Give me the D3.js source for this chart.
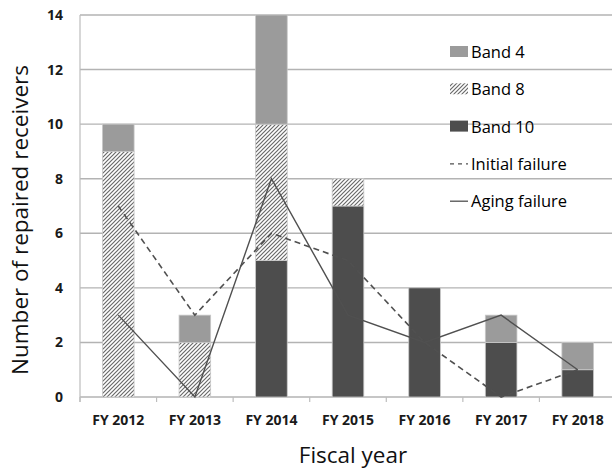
<!DOCTYPE html>
<html><head><meta charset="utf-8">
<script src="https://cdn.jsdelivr.net/npm/d3@7"></script>
<style>body{margin:0;background:#fff}svg{display:block}text{font-family:"Open Sans",sans-serif}</style>
</head><body>
<svg id="c" width="612" height="469"></svg>
<script>
const categories = ["FY 2012","FY 2013","FY 2014","FY 2015","FY 2016","FY 2017","FY 2018"];
const band10 = [0,0,5,7,4,2,1];
const band8  = [9,2,5,1,0,0,0];
const band4  = [1,1,4,0,0,1,1];
const initialFailure = [7,3,6,5,2,0,1];
const agingFailure   = [3,0,8,3,2,3,1];
const yTicks = [0,2,4,6,8,10,12,14];

const svg = d3.select("#c");
const m = {left:80, top:15, bottom:397};
const width = 536;
const x = d3.scaleBand().domain(categories).range([m.left, m.left+width]).paddingInner(0.587).paddingOuter(0.2935);
const xc = d3.scaleBand().domain(categories).range([m.left, m.left+width]);
const y = d3.scaleLinear().domain([0,14]).range([m.bottom, m.top]);

const defs = svg.append("defs");
const pat = defs.append("pattern").attr("id","hatch").attr("patternUnits","userSpaceOnUse")
  .attr("width",4).attr("height",4);
pat.append("rect").attr("width",4).attr("height",4).attr("fill","#fff");
pat.append("path").attr("d","M-1,1 l2,-2 M0,4 l4,-4 M3,5 l2,-2").attr("stroke","#6a6a6a").attr("stroke-width",1.2);

// gridlines
svg.append("g").selectAll("line").data(yTicks).join("line")
  .attr("x1",m.left).attr("x2",612).attr("y1",d=>y(d)).attr("y2",d=>y(d))
  .attr("stroke","#b3b3b3").attr("stroke-width",1.4);
// y axis line
svg.append("line").attr("x1",m.left).attr("x2",m.left).attr("y1",y(14)).attr("y2",y(0)+5)
  .attr("stroke","#bdbdbd").attr("stroke-width",1.2);

// x axis ticks
const xAxis = d3.axisBottom(xc).tickSize(0).tickPadding(18);
const gx = svg.append("g").attr("transform",`translate(0,${y(0)})`).call(xAxis);
gx.select(".domain").remove();
gx.selectAll("text").attr("font-size",14).attr("font-weight","bold").attr("fill","#1a1a1a").attr("font-family","Open Sans");
svg.append("g").selectAll("line").data(d3.range(categories.length+1)).join("line")
  .attr("x1",i=>m.left+i*xc.step()).attr("x2",i=>m.left+i*xc.step())
  .attr("y1",y(0)).attr("y2",y(0)+5).attr("stroke","#bdbdbd").attr("stroke-width",1.2);

// y axis labels
const yAxis = d3.axisLeft(y).tickValues(yTicks).tickSize(0).tickPadding(17);
const gy = svg.append("g").attr("transform",`translate(${m.left},0)`).call(yAxis);
gy.select(".domain").remove();
gy.selectAll("text").attr("font-size",14).attr("font-weight","bold").attr("fill","#1a1a1a").attr("font-family","Open Sans");

// stacked bars
const rows = categories.map((c,i)=>({cat:c, b10:band10[i], b8:band8[i], b4:band4[i]}));
const stack = d3.stack().keys(["b10","b8","b4"])(rows);
const fills = {b10:"#4d4d4d", b8:"url(#hatch)", b4:"#9b9b9b"};
svg.append("g").selectAll("g").data(stack).join("g")
  .attr("fill",s=>fills[s.key])
  .selectAll("rect").data(s=>s.filter(d=>d[1]>d[0])).join("rect")
  .attr("x",d=>x(d.data.cat)).attr("width",x.bandwidth())
  .attr("y",d=>y(d[1])).attr("height",d=>y(d[0])-y(d[1]))
  .attr("stroke","#c8c8c8").attr("stroke-width",0.8);

// lines
const line = d3.line().x((d,i)=>xc(categories[i])+xc.bandwidth()/2).y(d=>y(d));
svg.append("path").datum(initialFailure).attr("d",line).attr("fill","none")
  .attr("stroke","#505050").attr("stroke-width",1.6).attr("stroke-dasharray","6,4");
svg.append("path").datum(agingFailure).attr("d",line).attr("fill","none")
  .attr("stroke","#505050").attr("stroke-width",1.4);

// legend
const lg = svg.append("g");
const items = [
  {label:"Band 4", type:"rect", fill:"#9b9b9b"},
  {label:"Band 8", type:"rect", fill:"url(#hatch)"},
  {label:"Band 10", type:"rect", fill:"#4d4d4d"},
  {label:"Initial failure", type:"dash"},
  {label:"Aging failure", type:"solid"}
];
items.forEach((it,i)=>{
  const cy = 52 + i*37.3;
  if(it.type==="rect"){
    lg.append("rect").attr("x",450).attr("y",cy-6).attr("width",18).attr("height",11).attr("fill",it.fill);
  } else {
    lg.append("line").attr("x1",450).attr("x2",468).attr("y1",cy).attr("y2",cy)
      .attr("stroke","#505050").attr("stroke-width",1.3)
      .attr("stroke-dasharray", it.type==="dash" ? "4,4" : null);
  }
  lg.append("text").attr("x",471).attr("y",cy+6).attr("font-size",16.5).attr("fill","#000").text(it.label);
});

// titles
svg.append("text").attr("transform","translate(28,220) rotate(-90)").attr("text-anchor","middle")
  .attr("font-size",22.5).attr("fill","#111").text("Number of repaired receivers");
svg.append("text").attr("x",353).attr("y",463).attr("text-anchor","middle")
  .attr("font-size",22.5).attr("fill","#111").text("Fiscal year");
</script>
</body></html>
